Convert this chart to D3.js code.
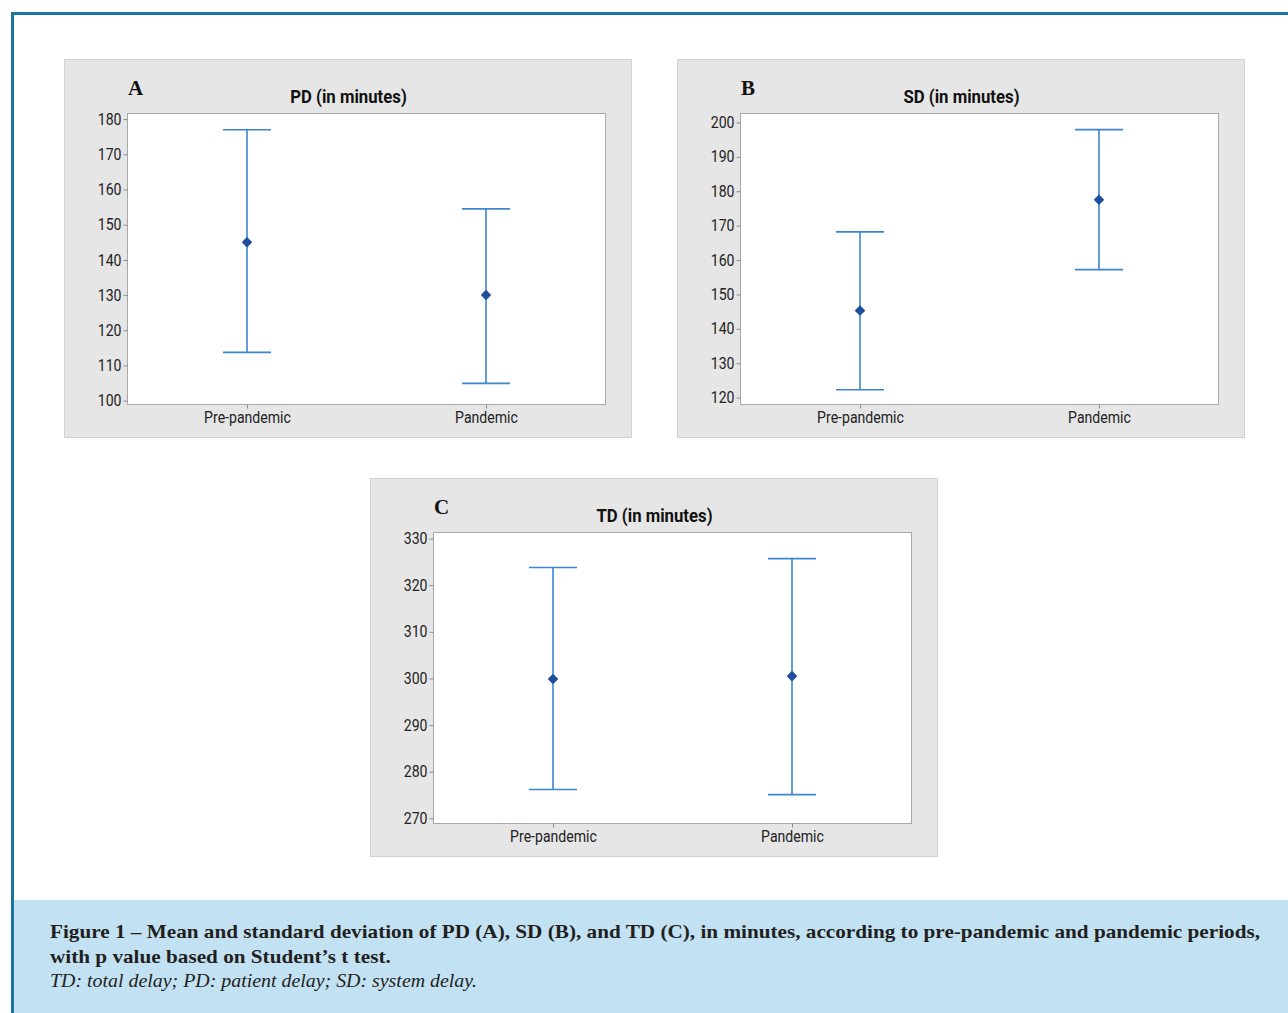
<!DOCTYPE html>
<html>
<head>
<meta charset="utf-8">
<script src="https://cdn.jsdelivr.net/npm/d3@7"></script>
<style>
  body { margin: 0; background: #fff; }
  svg { display: block; }
</style>
</head>
<body>
<div id="chart"></div>
<script>
// values (minutes)
var categories = ["Pre-pandemic", "Pandemic"];

var pdMean = [145.0, 130.0];
var pdLow = [113.7, 104.9];
var pdHigh = [177.0, 154.5];
var pdTicks = [100, 110, 120, 130, 140, 150, 160, 170, 180];
var pdRange = [98.9, 181.6];

var sdMean = [145.3, 177.5];
var sdLow = [122.3, 157.2];
var sdHigh = [168.2, 197.9];
var sdTicks = [120, 130, 140, 150, 160, 170, 180, 190, 200];
var sdRange = [118.0, 202.6];

var tdMean = [299.9, 300.5];
var tdLow = [276.2, 275.1];
var tdHigh = [323.8, 325.7];
var tdTicks = [270, 280, 290, 300, 310, 320, 330];
var tdRange = [268.9, 331.3];

var captionBold = [
    "Figure 1 \u2013 Mean and standard deviation of PD (A), SD (B), and TD (C), in minutes, according to pre-pandemic and pandemic periods,",
    "with p value based on Student\u2019s t test."
];
var captionNote = "TD: total delay; PD: patient delay; SD: system delay.";

var width = 1288, height = 1013;
var narrow = "'Liberation Sans Narrow', 'Arial Narrow', Roboto, sans-serif";

// squeeze text horizontally, the original uses a condensed face
function squeeze(sel, k) {
    sel.each(function () {
        var len = this.getComputedTextLength();
        d3.select(this).attr("textLength", len * k).attr("lengthAdjust", "spacingAndGlyphs");
    });
}

var svg = d3.select("#chart").append("svg")
    .attr("width", width)
    .attr("height", height);

// page frame
svg.append("line").attr("x1", 12).attr("x2", width).attr("y1", 13.5).attr("y2", 13.5)
    .attr("stroke", "#1a74a0").attr("stroke-width", 3);
svg.append("line").attr("x1", 12.5).attr("x2", 12.5).attr("y1", 12).attr("y2", height)
    .attr("stroke", "#1a74a0").attr("stroke-width", 3);

var panels = [
    { letter: "A", title: "PD (in minutes)", x: 64, y: 59, mean: pdMean, low: pdLow, high: pdHigh, ticks: pdTicks, range: pdRange },
    { letter: "B", title: "SD (in minutes)", x: 677, y: 59, mean: sdMean, low: sdLow, high: sdHigh, ticks: sdTicks, range: sdRange },
    { letter: "C", title: "TD (in minutes)", x: 370, y: 478, mean: tdMean, low: tdLow, high: tdHigh, ticks: tdTicks, range: tdRange }
];

var boxW = 567, boxH = 378;
var plot = { left: 63.5, top: 54.5, w: 478, h: 291 };
var capHalf = 24;

panels.forEach(function (p) {
    var g = svg.append("g").attr("transform", "translate(" + p.x + "," + p.y + ")");

    g.append("rect")
        .attr("x", 0.5).attr("y", 0.5)
        .attr("width", boxW).attr("height", boxH)
        .attr("fill", "#e6e6e6")
        .attr("stroke", "#d2d2d2");

    g.append("text")
        .attr("x", 64).attr("y", 36)
        .attr("font-family", "'Liberation Serif', 'DejaVu Serif', serif")
        .attr("font-weight", "bold")
        .attr("font-size", 21)
        .attr("fill", "#111")
        .text(p.letter);

    g.append("text")
        .attr("x", boxW / 2 + 1).attr("y", 44)
        .attr("text-anchor", "middle")
        .attr("font-family", narrow)
        .attr("font-weight", "bold")
        .attr("font-size", 18)
        .attr("fill", "#111")
        .text(p.title)
        .call(squeeze, 0.93);

    var pg = g.append("g").attr("transform", "translate(" + plot.left + "," + plot.top + ")");

    var x = d3.scalePoint().domain(categories).range([0, plot.w]).padding(0.5);
    var y = d3.scaleLinear().domain(p.range).range([plot.h, 0]);

    pg.append("rect")
        .attr("width", plot.w).attr("height", plot.h)
        .attr("fill", "#fff")
        .attr("stroke", "#a8a8a8");

    var yAxis = pg.append("g")
        .call(d3.axisLeft(y).tickValues(p.ticks).tickSize(4).tickPadding(2));
    var xAxis = pg.append("g")
        .attr("transform", "translate(0," + plot.h + ")")
        .call(d3.axisBottom(x).tickSize(4).tickPadding(3));

    [yAxis, xAxis].forEach(function (ax) {
        ax.select(".domain").remove();
        ax.selectAll("line").attr("stroke", "#8c8c8c");
        ax.selectAll("text")
            .attr("font-family", narrow)
            .attr("font-size", 16)
            .attr("fill", "#222")
            .call(squeeze, 0.88);
    });

    var rows = categories.map(function (c, i) {
        return { cat: c, mean: p.mean[i], low: p.low[i], high: p.high[i] };
    });

    var bars = pg.selectAll(".bar").data(rows).enter().append("g").attr("class", "bar");
    bars.append("line")
        .attr("x1", function (d) { return x(d.cat); })
        .attr("x2", function (d) { return x(d.cat); })
        .attr("y1", function (d) { return y(d.low); })
        .attr("y2", function (d) { return y(d.high); });
    bars.append("line")
        .attr("x1", function (d) { return x(d.cat) - capHalf; })
        .attr("x2", function (d) { return x(d.cat) + capHalf; })
        .attr("y1", function (d) { return y(d.high); })
        .attr("y2", function (d) { return y(d.high); });
    bars.append("line")
        .attr("x1", function (d) { return x(d.cat) - capHalf; })
        .attr("x2", function (d) { return x(d.cat) + capHalf; })
        .attr("y1", function (d) { return y(d.low); })
        .attr("y2", function (d) { return y(d.low); });
    bars.selectAll("line")
        .attr("stroke", "#3b86cf")
        .attr("stroke-width", 1.6);

    // rounded diamond for the mean
    bars.append("path")
        .attr("d", d3.symbol().type(d3.symbolSquare).size(36))
        .attr("transform", function (d) { return "translate(" + x(d.cat) + "," + y(d.mean) + ") rotate(45)"; })
        .attr("fill", "#1d4f9e")
        .attr("stroke", "#1d4f9e")
        .attr("stroke-width", 1.5)
        .attr("stroke-linejoin", "round");
});

// caption box
svg.append("rect")
    .attr("x", 14).attr("y", 900)
    .attr("width", width - 14).attr("height", height - 900)
    .attr("fill", "#c2e2f3");

var capFont = "'Liberation Serif', 'DejaVu Serif', serif";
var stretch = 1;
captionBold.forEach(function (line, i) {
    var t = svg.append("text")
        .attr("x", 50).attr("y", 938 + i * 25)
        .attr("font-family", capFont)
        .attr("font-weight", "bold")
        .attr("font-size", 19)
        .attr("fill", "#231f20")
        .text(line);
    var len = t.node().getComputedTextLength();
    if (i === 0) stretch = 1210 / len;
    t.attr("textLength", len * stretch).attr("lengthAdjust", "spacingAndGlyphs");
});
var note = svg.append("text")
    .attr("x", 50).attr("y", 987)
    .attr("font-family", capFont)
    .attr("font-style", "italic")
    .attr("font-size", 19)
    .attr("fill", "#231f20")
    .text(captionNote);
note.attr("textLength", 427).attr("lengthAdjust", "spacingAndGlyphs");
</script>
</body>
</html>
